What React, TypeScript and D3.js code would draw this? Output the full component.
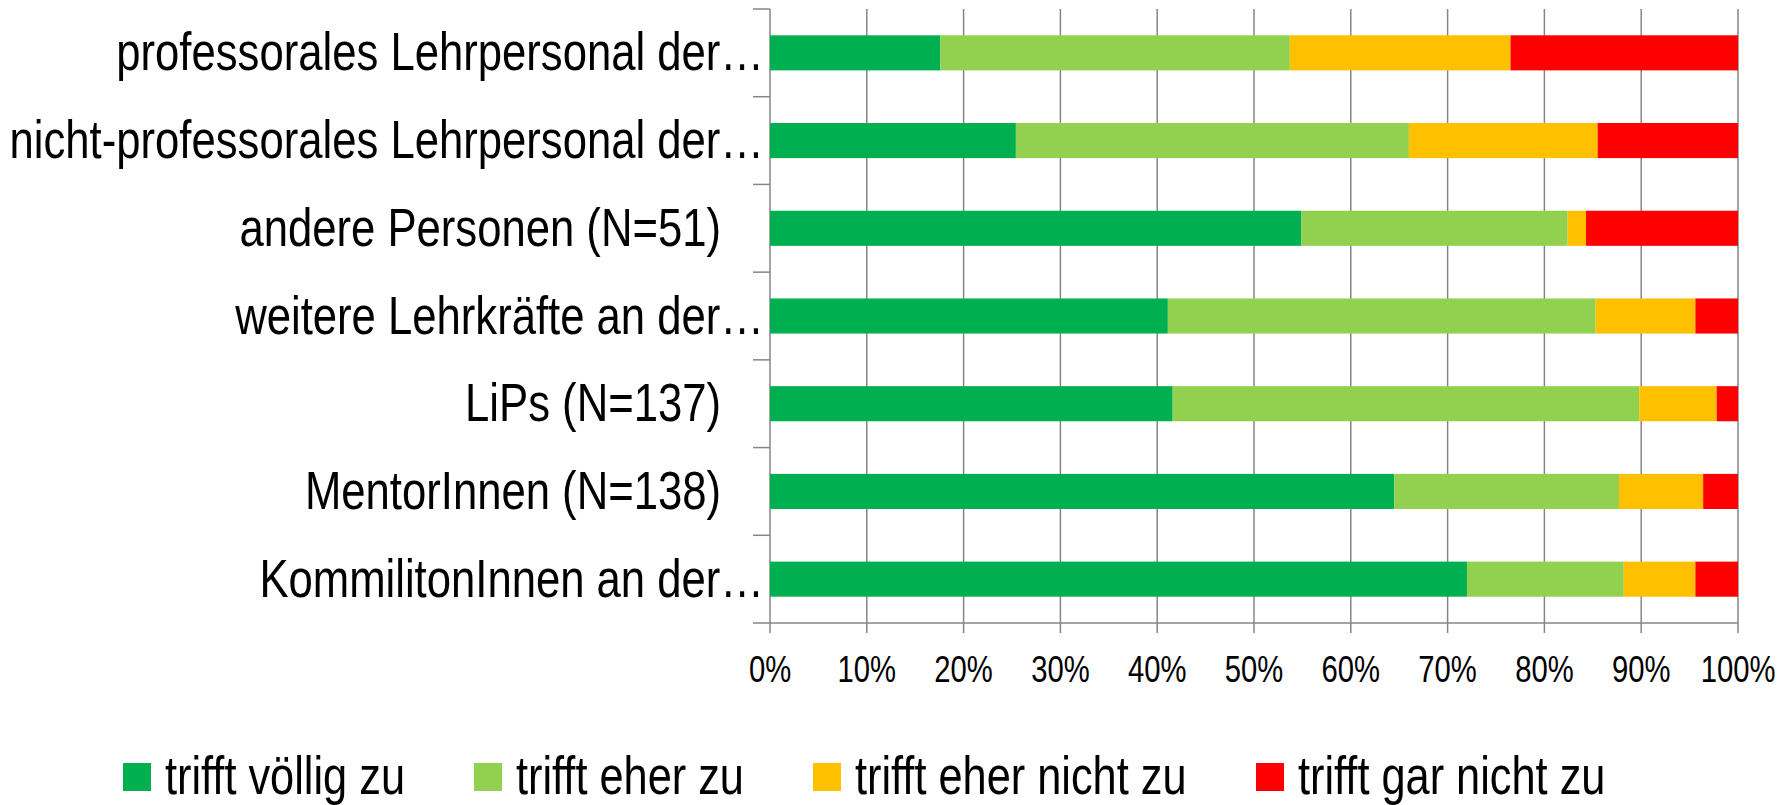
import React, { useRef, useEffect } from 'react';
import * as d3 from 'd3';

const categories = [
  'professorales Lehrpersonal der…',
  'nicht-professorales Lehrpersonal der…',
  'andere Personen (N=51)',
  'weitere Lehrkräfte an der…',
  'LiPs (N=137)',
  'MentorInnen (N=138)',
  'KommilitonInnen an der…',
];

const seriesNames = ['trifft völlig zu', 'trifft eher zu', 'trifft eher nicht zu', 'trifft gar nicht zu'];
const seriesColors = ['#00B050', '#92D050', '#FFC000', '#FF0000'];

// percent shares per category, same order as categories
const voellig = [17.6, 25.4, 54.9, 41.1, 41.6, 64.5, 72.0];
const eher = [36.1, 40.6, 27.5, 44.2, 48.2, 23.2, 16.2];
const eherNicht = [22.8, 19.5, 1.9, 10.3, 8.0, 8.7, 7.4];
const garNicht = [23.5, 14.5, 15.7, 4.4, 2.2, 3.6, 4.4];

const xTicks = [0, 10, 20, 30, 40, 50, 60, 70, 80, 90, 100];

const FONT = "'Liberation Sans', Arial, sans-serif";
const GRID = '#868686';

const App = () => {
  const ref = useRef<SVGSVGElement>(null);

  useEffect(() => {
    const W = 1790, H = 805;
    const margin = { top: 9, right: 52, bottom: 182, left: 770 };
    const width = W - margin.left - margin.right;
    const height = H - margin.top - margin.bottom;

    const svg = d3.select(ref.current)
      .attr('width', W)
      .attr('height', H);
    svg.selectAll('*').remove();

    const g = svg.append('g')
      .attr('transform', `translate(${margin.left},${margin.top})`);

    const table = categories.map((c, i) => ({
      cat: c,
      [seriesNames[0]]: voellig[i],
      [seriesNames[1]]: eher[i],
      [seriesNames[2]]: eherNicht[i],
      [seriesNames[3]]: garNicht[i],
    }));
    const stacked = d3.stack<any>().keys(seriesNames)(table);

    const x = d3.scaleLinear().domain([0, 100]).range([0, width]);
    const y = d3.scaleBand().domain(categories).range([0, height])
      .paddingInner(0.6).paddingOuter(0.3);
    const color = d3.scaleOrdinal<string>().domain(seriesNames).range(seriesColors);

    // vertical gridlines + bottom ticks
    g.append('g')
      .selectAll('line')
      .data(xTicks)
      .enter().append('line')
      .attr('x1', d => x(d)).attr('x2', d => x(d))
      .attr('y1', 0).attr('y2', height + 10)
      .attr('stroke', GRID).attr('stroke-width', 1.5);

    // bottom axis line
    g.append('line')
      .attr('x1', 0).attr('x2', width)
      .attr('y1', height).attr('y2', height)
      .attr('stroke', GRID).attr('stroke-width', 1.5);

    // left axis ticks at band boundaries
    const step = y.step();
    g.append('g')
      .selectAll('line')
      .data(d3.range(categories.length + 1))
      .enter().append('line')
      .attr('x1', -17).attr('x2', 0)
      .attr('y1', d => d * step).attr('y2', d => d * step)
      .attr('stroke', GRID).attr('stroke-width', 1.5);

    // bars
    g.append('g')
      .selectAll('g')
      .data(stacked)
      .enter().append('g')
      .attr('fill', d => color(d.key))
      .selectAll('rect')
      .data(d => d)
      .enter().append('rect')
      .attr('x', d => x(d[0]))
      .attr('width', d => x(d[1]) - x(d[0]))
      .attr('y', d => y(d.data.cat)!)
      .attr('height', y.bandwidth());

    // category labels (narrow look: scaled Liberation Sans)
    const catSize = 53.5, catScale = 0.816;
    g.append('g')
      .selectAll('text')
      .data(categories)
      .enter().append('text')
      .attr('transform', d => `translate(${d.endsWith('…') ? -6 : -49},${y(d)! + y.bandwidth() / 2 + 17.5}) scale(${catScale},1)`)
      .attr('text-anchor', 'end')
      .attr('font-family', FONT)
      .attr('font-size', catSize)
      .attr('fill', '#000')
      .text(d => d);

    // x tick labels
    const tickSize = 37, tickScale = 0.79;
    g.append('g')
      .selectAll('text')
      .data(xTicks)
      .enter().append('text')
      .attr('transform', d => `translate(${x(d)},${height + 58.5}) scale(${tickScale},1)`)
      .attr('text-anchor', 'middle')
      .attr('font-family', FONT)
      .attr('font-size', tickSize)
      .attr('fill', '#000')
      .text(d => `${d}%`);

    // legend
    const legendX = [123, 474, 813, 1256];
    const legSize = 53.5, legScale = 0.81;
    const leg = svg.append('g');
    seriesNames.forEach((name, i) => {
      leg.append('rect')
        .attr('x', legendX[i]).attr('y', 763)
        .attr('width', 28).attr('height', 28)
        .attr('fill', color(name));
      leg.append('text')
        .attr('transform', `translate(${legendX[i] + 42},${793.5}) scale(${legScale},1)`)
        .attr('font-family', FONT)
        .attr('font-size', legSize)
        .attr('fill', '#000')
        .text(name);
    });
  }, []);

  return (
    <svg ref={ref} style={{ position: 'absolute', left: 0, top: 0, background: '#fff' }} />
  );
};

export default App;
